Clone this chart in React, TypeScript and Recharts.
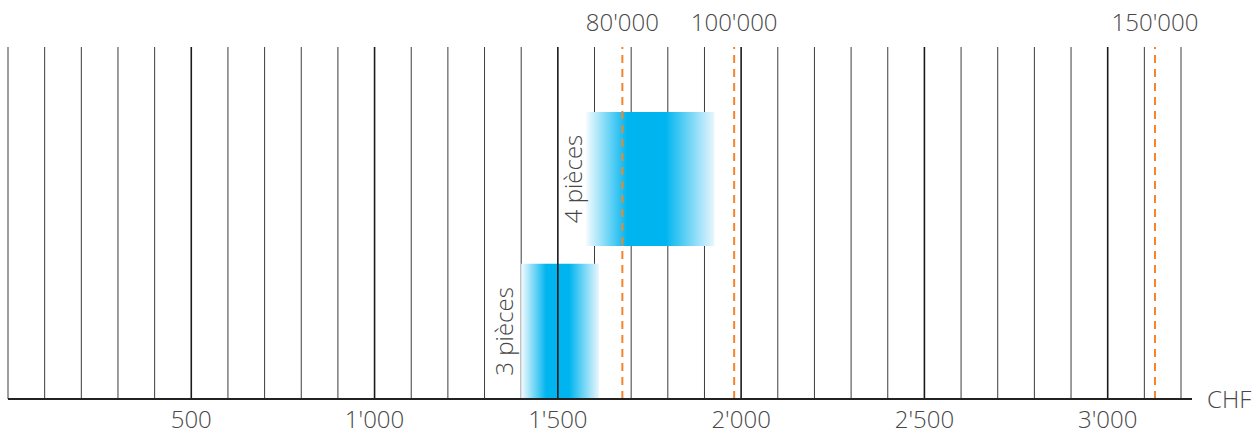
import React from 'react';
import { ComposedChart, XAxis, YAxis, ReferenceLine, ReferenceArea } from 'recharts';

const gridValues = [
  0, 100, 200, 300, 400, 500, 600, 700, 800, 900, 1000, 1100, 1200, 1300, 1400, 1500, 1600,
  1700, 1800, 1900, 2000, 2100, 2200, 2300, 2400, 2500, 2600, 2700, 2800, 2900, 3000, 3100, 3200,
];
const majorValues = [500, 1000, 1500, 2000, 2500, 3000];
const tickValues = [500, 1000, 1500, 2000, 2500, 3000];
const thresholdValues = [1676, 1981, 3129];
const thresholdLabels = ["80'000", "100'000", "150'000"];
const boxLabels = ['3 pièces', '4 pièces'];
const boxFrom = [1400, 1577];
const boxTo = [1612, 1927];
const boxLow = [0, 43.5];
const boxHigh = [38.4, 81.5];
const unitLabel = 'CHF';

const FONT = "'Open Sans', 'Noto Sans', sans-serif";
const TEXT = '#474747';
const FS = 24;

const fmt = (v: number) => String(v).replace(/\B(?=(\d{3})+(?!\d))/g, "'");

const makeBoxLabel = (text: string, gap: number) => (props: any) => {
  const vb = props.viewBox || {};
  const x = vb.x - gap;
  const y = vb.y + vb.height / 2;
  return (
    <text
      transform={`translate(${x}, ${y}) rotate(-90)`}
      textAnchor="middle"
      fill={TEXT}
      fontSize={FS}
      fontFamily={FONT}
      fontWeight={300}
    >
      {text}
    </text>
  );
};

const labelGaps = [8, 4];

export default function App() {
  return (
    <div style={{ width: 1250, height: 427, padding: '8px 0 0 8px' }}>
      <style>{'html, body { margin: 0; padding: 0; overflow: hidden; } svg { overflow: visible; }'}</style>
      <ComposedChart
        width={1250}
        height={427}
        data={[]}
        margin={{ top: 39, right: 66, bottom: 0, left: 0 }}
      >
        <defs>
          <linearGradient id="boxGrad" x1="0" y1="0" x2="1" y2="0">
            <stop offset="0%" stopColor="#f4fbfe" />
            <stop offset="32%" stopColor="#00b5ef" />
            <stop offset="62%" stopColor="#00b5ef" />
            <stop offset="100%" stopColor="#e8f6fd" />
          </linearGradient>
        </defs>
        <XAxis
          type="number"
          dataKey="x"
          domain={[0, 3230]}
          allowDataOverflow
          ticks={tickValues}
          tickFormatter={fmt}
          interval={0}
          axisLine={false}
          tickLine={false}
          tickSize={6}
          tickMargin={6}
          height={36}
          tick={{ fill: TEXT, fontSize: FS, fontFamily: FONT, fontWeight: 300 }}
        />
        <YAxis type="number" domain={[0, 100]} hide allowDataOverflow />
        {gridValues
          .filter((v) => !majorValues.includes(v))
          .map((v) => (
            <ReferenceLine
              key={'g' + v}
              x={v}
              stroke="#3c3c3c"
              strokeWidth={1}
              zIndex={50}
              isAnimationActive={false}
            />
          ))}
        {boxLabels.map((lab, i) => (
          <ReferenceArea
            key={'b' + i}
            x1={boxFrom[i]}
            x2={boxTo[i]}
            y1={boxLow[i]}
            y2={boxHigh[i]}
            fill="url(#boxGrad)"
            fillOpacity={1}
            stroke="none"
            zIndex={100}
            label={makeBoxLabel(lab, labelGaps[i])}
            isAnimationActive={false}
          />
        ))}
        {majorValues.map((v) => (
          <ReferenceLine
            key={'m' + v}
            x={v}
            stroke="#1a1a1a"
            strokeWidth={1.6}
            zIndex={450}
            isAnimationActive={false}
          />
        ))}
        {thresholdValues.map((v, i) => (
          <ReferenceLine
            key={'t' + v}
            x={v}
            stroke="#f5842a"
            strokeWidth={2}
            strokeDasharray="8 6"
            zIndex={460}
            isAnimationActive={false}
            label={{
              value: thresholdLabels[i],
              position: 'top',
              offset: 16,
              fill: TEXT,
              fontSize: FS,
              fontFamily: FONT,
              fontWeight: 300,
            }}
          />
        ))}
        <ReferenceLine
          y={0}
          stroke="#222222"
          strokeWidth={2}
          zIndex={470}
          isAnimationActive={false}
          label={{
            value: unitLabel,
            position: 'right',
            offset: 15,
            fill: TEXT,
            fontSize: FS,
            fontFamily: FONT,
            fontWeight: 300,
          }}
        />
      </ComposedChart>
    </div>
  );
}
